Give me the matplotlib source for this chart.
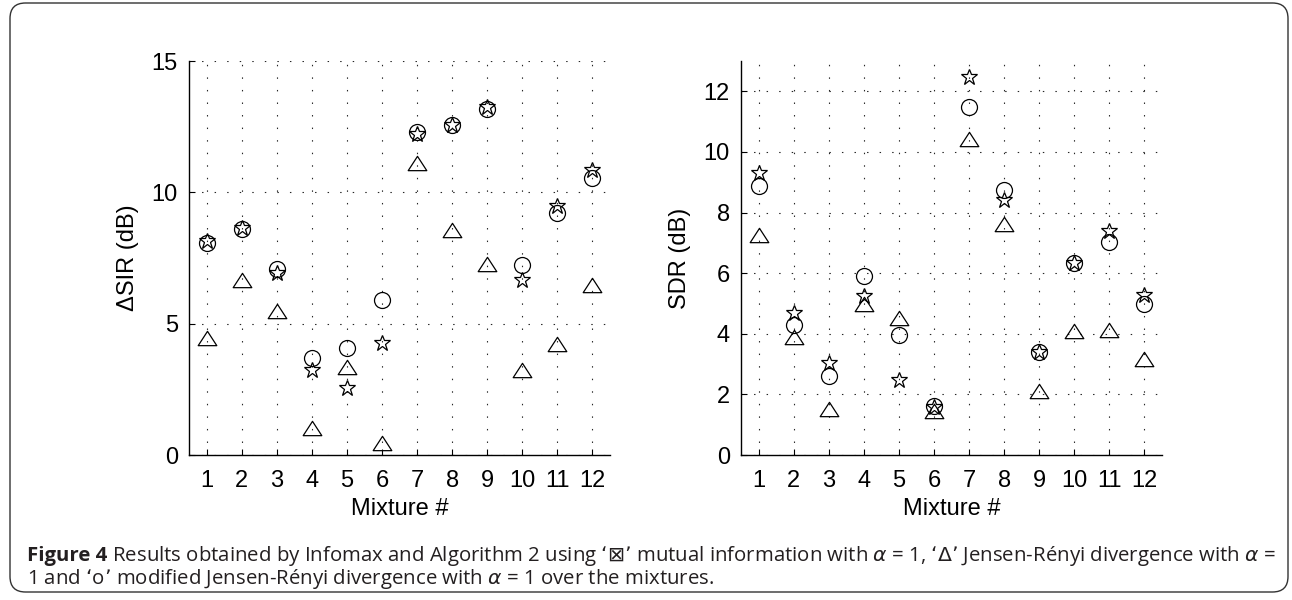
import matplotlib
matplotlib.use("Agg")
import matplotlib.pyplot as plt
from matplotlib.path import Path
from matplotlib.patches import FancyBboxPatch
import numpy as np

# ---------------- data ----------------
mixtures = list(range(1, 13))
mixture_labels = [str(m) for m in mixtures]

sir_circle   = [8.08, 8.62, 7.10, 3.71, 4.06, 5.91, 12.28, 12.57, 13.19, 7.23, 9.22, 10.54]
sir_star     = [8.14, 8.65, 6.94, 3.24, 2.54, 4.28, 12.23, 12.57, 13.24, 6.68, 9.49, 10.86]
sir_triangle = [4.45, 6.67, 5.50, 1.03, 3.34, 0.46, 11.13, 8.58, 7.29, 3.25, 4.22, 6.46]

sdr_circle   = [8.87, 4.29, 2.62, 5.91, 3.97, 1.61, 11.48, 8.74, 3.39, 6.35, 7.04, 4.98]
sdr_star     = [9.31, 4.70, 3.03, 5.25, 2.46, 1.58, 12.47, 8.43, 3.39, 6.35, 7.39, 5.28]
sdr_triangle = [7.26, 3.88, 1.52, 4.98, 4.52, 1.45, 10.44, 7.61, 2.10, 4.10, 4.14, 3.17]

sir_yticks = [0, 5, 10, 15]
sdr_yticks = [0, 2, 4, 6, 8, 10, 12]

caption_bold = "Figure 4"
caption_line1 = (" Results obtained by Infomax and Algorithm 2 using \u2018$\\boxtimes$\u2019 mutual information "
                 "with $\\alpha$ = 1, \u2018$\\Delta$\u2019 Jensen-R\u00e9nyi divergence with $\\alpha$ =")
caption_line2 = "1 and \u2018o\u2019 modified Jensen-R\u00e9nyi divergence with $\\alpha$ = 1 over the mixtures."

# ---------------- style ----------------
plt.rcParams['font.family'] = ['Liberation Sans', 'DejaVu Sans']
plt.rcParams['mathtext.fontset'] = 'dejavusans'

fig = plt.figure(figsize=(12.92, 6.0), dpi=100)

tri = Path([(-1, -0.77), (1, -0.77), (0, 0.77), (-1, -0.77)],
           [Path.MOVETO, Path.LINETO, Path.LINETO, Path.CLOSEPOLY])

def style_axes(ax, yticks, ylim, ylabel):
    ax.set_xlim(0.5, 12.5)
    ax.set_ylim(*ylim)
    ax.set_xticks(mixtures)
    ax.set_xticklabels(mixture_labels)
    ax.set_yticks(yticks)
    ax.spines['top'].set_visible(False)
    ax.spines['right'].set_visible(False)
    for s in ['left', 'bottom']:
        ax.spines[s].set_linewidth(1.0)
    ax.tick_params(direction='in', length=4, width=0.8, labelsize=17, pad=8)
    ax.tick_params(axis='x', pad=11)
    ax.grid(True, color='0.15', linewidth=0.8, linestyle=(0, (1.3, 10.0)))
    ax.set_axisbelow(True)
    ax.set_xlabel("Mixture #", fontsize=17, labelpad=4)
    ax.set_ylabel(ylabel, fontsize=17, labelpad=9)

def draw(ax, tri_v, circ_v, star_v):
    ax.plot(mixtures, tri_v, linestyle='none', marker=tri, markersize=13.4,
            markerfacecolor='none', markeredgecolor='black', markeredgewidth=0.9)
    ax.plot(mixtures, circ_v, linestyle='none', marker='o', markersize=11.5,
            markerfacecolor='none', markeredgecolor='black', markeredgewidth=0.9)
    ax.plot(mixtures, star_v, linestyle='none', marker='*', markersize=12,
            markerfacecolor='none', markeredgecolor='black', markeredgewidth=0.9)

ax1 = fig.add_axes([189/1292, 145/600, 421/1292, 394/600])
draw(ax1, sir_triangle, sir_circle, sir_star)
style_axes(ax1, sir_yticks, (0, 15), "\u0394SIR (dB)")

ax2 = fig.add_axes([741/1292, 145/600, 421/1292, 394/600])
draw(ax2, sdr_triangle, sdr_circle, sdr_star)
style_axes(ax2, sdr_yticks, (0, 13), "SDR (dB)")

# border
border = FancyBboxPatch((10/1292, 8/600), 1278/1292, 589/600,
                        boxstyle="round,pad=0,rounding_size=0.012",
                        transform=fig.transFigure, fill=False,
                        edgecolor='0.2', linewidth=1.0, mutation_aspect=1292/600)
fig.add_artist(border)

# caption
cap_color = '#231f20'
cap_font = ['Open Sans', 'DejaVu Sans']
cap_size = 14.7
x0 = 27/1292
t1 = fig.text(x0, 1 - 561/600, caption_bold, fontsize=cap_size, fontweight='bold',
              family=cap_font, color=cap_color, va='baseline', ha='left')
fig.canvas.draw()
r = fig.canvas.get_renderer()
bb = t1.get_window_extent(renderer=r)
fig.text(bb.x1/1292, 1 - 561/600, caption_line1, fontsize=cap_size,
         family=cap_font, color=cap_color, va='baseline', ha='left')
fig.text(x0, 1 - 584/600, caption_line2, fontsize=cap_size,
         family=cap_font, color=cap_color, va='baseline', ha='left')

fig.savefig("out.png", dpi=100)
